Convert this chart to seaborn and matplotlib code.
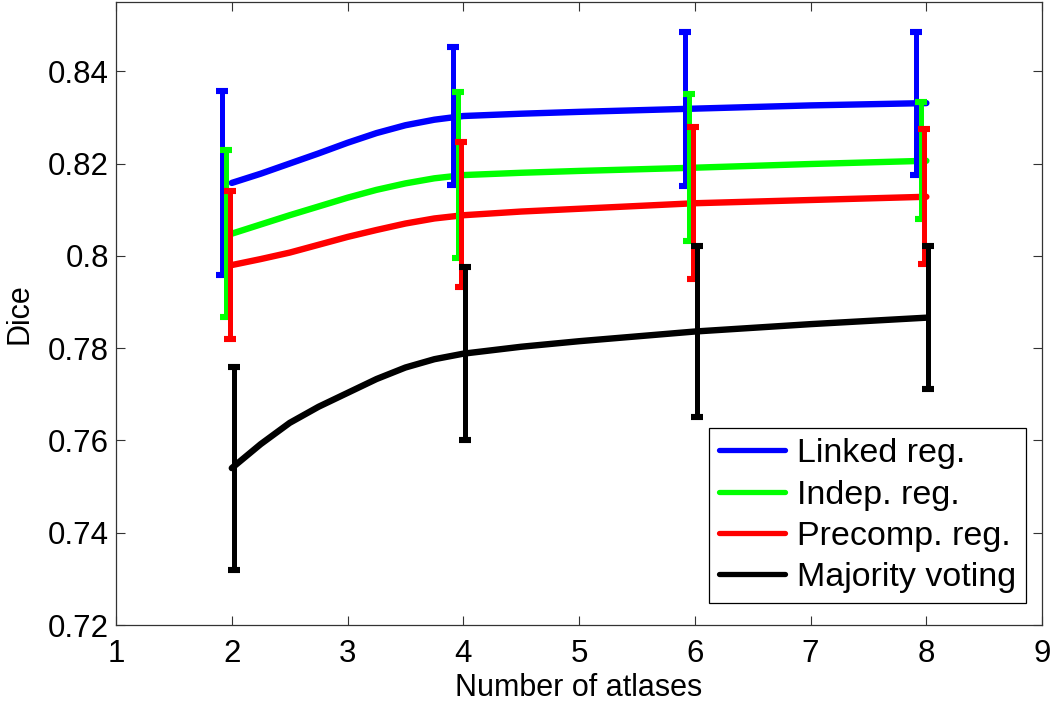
import matplotlib
matplotlib.use("Agg")
import matplotlib.pyplot as plt
import pandas as pd
import seaborn as sns


# Number of atlases where each method was evaluated
ATLASES = [2, 4, 6, 8]

# Mean Dice and half-width of the error bars
LINKED_MEAN = [0.8158, 0.8303, 0.8319, 0.8331]
LINKED_ERR = [0.0200, 0.0150, 0.0167, 0.0155]
INDEP_MEAN = [0.8048, 0.8175, 0.8191, 0.8206]
INDEP_ERR = [0.0181, 0.0180, 0.0159, 0.0127]
PRECOMP_MEAN = [0.7980, 0.8089, 0.8114, 0.8128]
PRECOMP_ERR = [0.0160, 0.0157, 0.0165, 0.0146]
MAJORITY_MEAN = [0.7540, 0.7788, 0.7836, 0.7866]
MAJORITY_ERR = [0.0220, 0.0187, 0.0186, 0.0155]

# Smoothed trend curves
CURVE_X = [2, 2.25, 2.5, 2.75, 3, 3.25, 3.5, 3.75, 4, 4.5, 5, 6, 7, 8]
LINKED_CURVE = [0.8158, 0.8178, 0.8200, 0.8222, 0.8245, 0.8266, 0.8283, 0.8295,
                0.8303, 0.8308, 0.8312, 0.8319, 0.8326, 0.8331]
INDEP_CURVE = [0.8048, 0.8068, 0.8088, 0.8107, 0.8126, 0.8143, 0.8157, 0.8168,
               0.8175, 0.8180, 0.8184, 0.8191, 0.8199, 0.8206]
PRECOMP_CURVE = [0.7980, 0.7993, 0.8007, 0.8024, 0.8041, 0.8056, 0.8070, 0.8081,
                 0.8088, 0.8096, 0.8102, 0.8114, 0.8121, 0.8128]
MAJORITY_CURVE = [0.7540, 0.7592, 0.7638, 0.7673, 0.7703, 0.7733, 0.7758, 0.7776,
                  0.7788, 0.7803, 0.7815, 0.7836, 0.7852, 0.7866]

METHODS = ["Linked reg.", "Indep. reg.", "Precomp. reg.", "Majority voting"]
COLORS = ["#0000ff", "#00ff00", "#ff0000", "#000000"]
Y_TICKS = [0.72, 0.74, 0.76, 0.78, 0.80, 0.82, 0.84]


def build_curves() -> pd.DataFrame:
    curves = [LINKED_CURVE, INDEP_CURVE, PRECOMP_CURVE, MAJORITY_CURVE]
    rows = []
    for method, values in zip(METHODS, curves):
        for x, y in zip(CURVE_X, values):
            rows.append({"atlases": x, "dice": y, "method": method})
    return pd.DataFrame(rows)


def main() -> None:
    sns.set_theme(style="ticks")
    plt.rcParams["font.family"] = ["Liberation Sans", "DejaVu Sans"]
    plt.rcParams["text.color"] = "black"
    plt.rcParams["axes.labelcolor"] = "black"

    fig = plt.figure(figsize=(10.5, 7.01), dpi=100)
    ax = fig.add_axes([0.1105, 0.1084, 0.882, 0.8887])

    curves = build_curves()
    sns.lineplot(
        data=curves, x="atlases", y="dice", hue="method", hue_order=METHODS,
        palette=COLORS, linewidth=4.6, sort=False, ax=ax, legend=True,
    )

    # error bars are slightly shifted so they do not overlap
    offsets = [-0.088, -0.05, -0.017, 0.015]
    means = [LINKED_MEAN, INDEP_MEAN, PRECOMP_MEAN, MAJORITY_MEAN]
    errs = [LINKED_ERR, INDEP_ERR, PRECOMP_ERR, MAJORITY_ERR]
    for off, m, e, c in zip(offsets, means, errs, COLORS):
        ax.errorbar(
            [a + off for a in ATLASES], m, yerr=e, fmt="none", ecolor=c,
            elinewidth=3.6, capsize=4.3, capthick=4.4, zorder=3,
        )

    ax.set_xlim(1, 9)
    ax.set_ylim(0.72, 0.855)
    ax.set_xticks(range(1, 10))
    ax.set_yticks(Y_TICKS)
    ax.set_yticklabels([f"{t:g}" for t in Y_TICKS])
    ax.tick_params(direction="in", length=6.5, width=0.8, colors="#333333",
                   labelcolor="black", labelsize=22.5, top=True, right=True)
    ax.tick_params(axis="x", pad=10)
    ax.tick_params(axis="y", pad=5)
    for spine in ax.spines.values():
        spine.set_visible(True)
        spine.set_linewidth(0.9)
        spine.set_color("#333333")

    ax.set_xlabel("Number of atlases", fontsize=22, labelpad=3, color="black")
    ax.set_ylabel("Dice", fontsize=22, labelpad=10, color="black")

    leg = ax.legend(
        loc="lower right", bbox_to_anchor=(0.983, 0.035), borderaxespad=0,
        fontsize=24.5, frameon=True, fancybox=False, framealpha=1,
        edgecolor="black", handlelength=1.95, handletextpad=0.35,
        labelspacing=0.3, borderpad=0.3, title=None,
    )
    leg.get_frame().set_linewidth(0.9)
    for line in leg.get_lines():
        line.set_linewidth(3.8)
    for text in leg.get_texts():
        text.set_color("black")

    fig.savefig("out.png", dpi=100)
    plt.close(fig)


if __name__ == "__main__":
    main()
